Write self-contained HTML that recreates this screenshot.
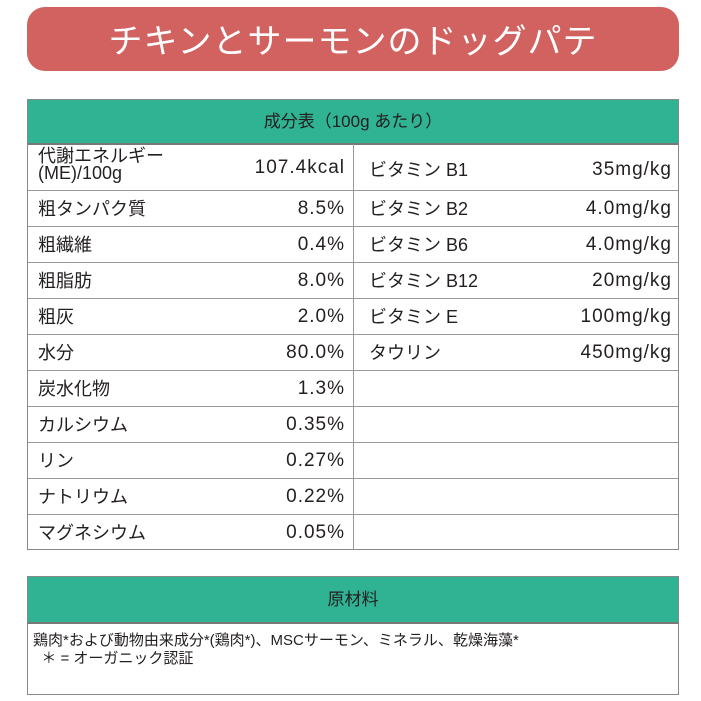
<!DOCTYPE html><html><head><meta charset="utf-8"><style>
body{margin:0;width:701px;height:701px;background:#fff;font-family:"Liberation Sans","Noto Sans CJK JP",sans-serif;color:#231f20;position:relative;overflow:hidden}
.ban{position:absolute;left:27px;top:7px;width:652px;height:64px;background:#d2625f;border-radius:18px;color:#fff;font-size:34px;text-align:center;line-height:64px;letter-spacing:1px;font-family:"Noto Sans CJK JP",sans-serif;font-weight:normal}
.t{position:absolute;left:27px;border:1px solid #888;box-sizing:border-box;width:652px}
.h{background:#30b393;text-align:center;border-bottom:2px solid #777;box-sizing:border-box}
.c{position:absolute;font-size:18px;white-space:nowrap;line-height:20px;height:20px}
.n{font-size:19px;letter-spacing:1px}
.l{position:absolute;left:0;width:650px;height:1px;background:#999}
.v{position:absolute;left:325px;width:1px;background:#999}
</style></head><body>
<div class="ban">チキンとサーモンのドッグパテ</div>
<div class="t" style="top:99px;height:451px">
<div class="h" style="height:45px;line-height:44px;font-size:17px">成分表（100g あたり）</div>
<div class="v" style="top:44px;height:406px"></div>
<div class="l" style="top:90px"></div><div class="l" style="top:126px"></div><div class="l" style="top:162px"></div><div class="l" style="top:198px"></div><div class="l" style="top:234px"></div><div class="l" style="top:270px"></div><div class="l" style="top:306px"></div><div class="l" style="top:342px"></div><div class="l" style="top:378px"></div><div class="l" style="top:414px"></div>
<div class="c" style="left:10px;top:48px;line-height:17px;height:36px">代謝エネルギー<br>(ME)/100g</div><div class="c n" style="right:333px;top:58px">107.4kcal</div>
<div class="c" style="left:341px;top:60px">ビタミン B1</div><div class="c n" style="right:6px;top:60px">35mg/kg</div>
<div class="c" style="left:10px;top:99px">粗タンパク質</div><div class="c n" style="right:333px;top:99px">8.5%</div>
<div class="c" style="left:341px;top:99px">ビタミン B2</div><div class="c n" style="right:6px;top:99px">4.0mg/kg</div>
<div class="c" style="left:10px;top:135px">粗繊維</div><div class="c n" style="right:333px;top:135px">0.4%</div>
<div class="c" style="left:341px;top:135px">ビタミン B6</div><div class="c n" style="right:6px;top:135px">4.0mg/kg</div>
<div class="c" style="left:10px;top:171px">粗脂肪</div><div class="c n" style="right:333px;top:171px">8.0%</div>
<div class="c" style="left:341px;top:171px">ビタミン B12</div><div class="c n" style="right:6px;top:171px">20mg/kg</div>
<div class="c" style="left:10px;top:207px">粗灰</div><div class="c n" style="right:333px;top:207px">2.0%</div>
<div class="c" style="left:341px;top:207px">ビタミン E</div><div class="c n" style="right:6px;top:207px">100mg/kg</div>
<div class="c" style="left:10px;top:243px">水分</div><div class="c n" style="right:333px;top:243px">80.0%</div>
<div class="c" style="left:341px;top:243px">タウリン</div><div class="c n" style="right:6px;top:243px">450mg/kg</div>
<div class="c" style="left:10px;top:279px">炭水化物</div><div class="c n" style="right:333px;top:279px">1.3%</div>
<div class="c" style="left:10px;top:315px">カルシウム</div><div class="c n" style="right:333px;top:315px">0.35%</div>
<div class="c" style="left:10px;top:351px">リン</div><div class="c n" style="right:333px;top:351px">0.27%</div>
<div class="c" style="left:10px;top:387px">ナトリウム</div><div class="c n" style="right:333px;top:387px">0.22%</div>
<div class="c" style="left:10px;top:423px">マグネシウム</div><div class="c n" style="right:333px;top:423px">0.05%</div>
</div>
<div class="t" style="top:576px;height:119px">
<div class="h" style="height:47px;line-height:46px;font-size:17px">原材料</div>
<div style="position:absolute;left:5px;top:55px;font-size:15px;line-height:18px">鶏肉*および動物由来成分*(鶏肉*)、MSCサーモン、ミネラル、乾燥海藻*<br>&nbsp;&nbsp;＊ = オーガニック認証</div>
</div>
</body></html>
